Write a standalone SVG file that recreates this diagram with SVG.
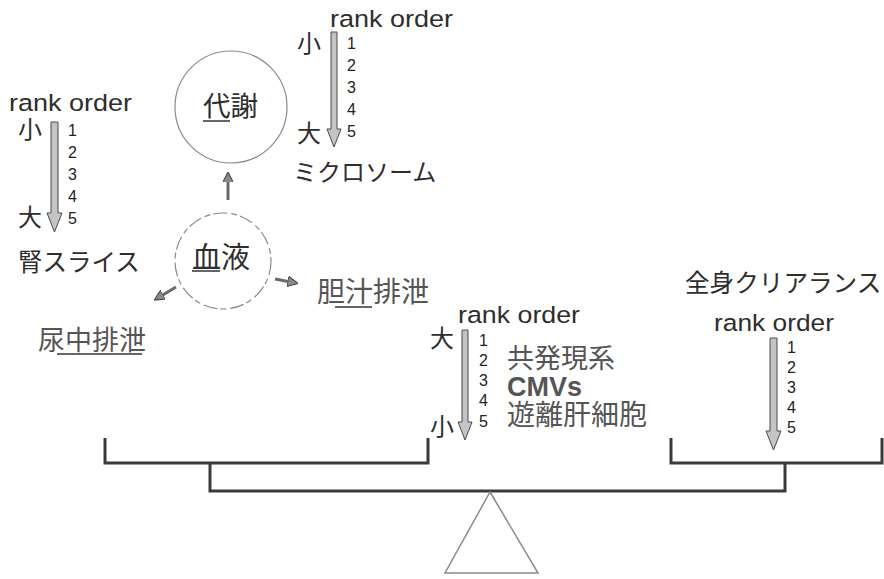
<svg xmlns="http://www.w3.org/2000/svg" width="884" height="579" viewBox="0 0 884 579">
<style>
.ro{font-family:"Liberation Sans",Arial,sans-serif;font-size:24.5px;fill:#2e2e2e}
.num{font-family:"Liberation Sans",Arial,sans-serif;font-size:16px;fill:#222}
.jp{font-family:"Liberation Sans","Noto Sans CJK JP",sans-serif;fill:#2e2e2e}
.lt{fill:#555}
.circ{fill:none;stroke:#8a8a8a;stroke-width:1.2}
.ul{stroke:#333;stroke-width:1.5}
.ra{fill:#c4c4c4;stroke:#4a4a4a;stroke-width:1}
.beam{fill:none;stroke:#3a3a3a;stroke-width:3;stroke-linejoin:miter}
.con{stroke:#6a6a6a;stroke-width:3}
</style>
<defs>
<marker id="ah" viewBox="0 0 10 10" refX="8" refY="5" markerWidth="3.5" markerHeight="3.5" orient="auto" markerUnits="strokeWidth">
<path d="M0,0 L10,5 L0,10 z" fill="#8a8a8a" stroke="#444" stroke-width="1"/>
</marker>
</defs>

<g id="rank-left">
<text class="ro" x="9" y="111" textLength="123" lengthAdjust="spacingAndGlyphs">rank order</text>
<text class="jp" x="18" y="138" font-size="24">小</text>
<text class="jp" x="18" y="226" font-size="24">大</text>
<path class="ra" d="M51,122 H58 V213 H62 L54.5,232 L47,213 H51 Z"/>
<text class="num" x="68" y="136">1</text>
<text class="num" x="68" y="158">2</text>
<text class="num" x="68" y="180">3</text>
<text class="num" x="68" y="202">4</text>
<text class="num" x="68" y="224">5</text>
</g>

<g id="kidney-slice">
<text class="jp" x="18" y="271" font-size="24.5">腎スライス</text>
</g>

<g id="rank-top">
<text class="ro" x="330" y="27" textLength="123" lengthAdjust="spacingAndGlyphs">rank order</text>
<text class="jp" x="297" y="52" font-size="24">小</text>
<text class="jp" x="297" y="142" font-size="24">大</text>
<path class="ra" d="M331,32 H337 V129 H341 L334,147 L327,129 H331 Z"/>
<text class="num" x="347" y="49">1</text>
<text class="num" x="347" y="71">2</text>
<text class="num" x="347" y="93">3</text>
<text class="num" x="347" y="115">4</text>
<text class="num" x="347" y="137">5</text>
</g>

<g id="microsome">
<text class="jp" x="293" y="181" font-size="24">ミクロソーム</text>
</g>

<g id="metabolism">
<circle class="circ" cx="231" cy="107" r="56"/>
<text class="jp" x="203" y="116" font-size="27.5">代謝</text>
<line class="ul" x1="203" y1="121" x2="230" y2="121"/>
</g>

<g id="blood">
<circle class="circ" cx="223" cy="261" r="48" stroke-dasharray="14 4 6 3"/>
<text class="jp" x="192" y="268" font-size="29">血液</text>
<line class="ul" x1="192" y1="271" x2="220" y2="271"/>
</g>

<g id="biliary">
<text class="jp lt" x="317" y="302" font-size="28">胆汁排泄</text>
<line class="ul" x1="335" y1="307" x2="372" y2="307" stroke="#555"/>
</g>

<g id="urinary">
<text class="jp lt" x="38" y="350" font-size="27">尿中排泄</text>
<line class="ul" x1="57" y1="354" x2="142" y2="354" stroke="#555"/>
</g>

<g id="connectors">
<line class="con" x1="228" y1="200" x2="228" y2="174" marker-end="url(#ah)"/>
<line class="con" x1="275" y1="279" x2="296" y2="283" marker-end="url(#ah)"/>
<line class="con" x1="176" y1="287" x2="156" y2="299" marker-end="url(#ah)"/>
</g>

<g id="rank-mid">
<text class="ro" x="458" y="323" textLength="122" lengthAdjust="spacingAndGlyphs">rank order</text>
<text class="jp" x="430" y="347" font-size="24">大</text>
<text class="jp" x="430" y="435" font-size="24">小</text>
<path class="ra" d="M462,330 H468 V422 H472 L465,440 L458,422 H462 Z"/>
<text class="num" x="479" y="346">1</text>
<text class="num" x="479" y="366">2</text>
<text class="num" x="479" y="386">3</text>
<text class="num" x="479" y="406">4</text>
<text class="num" x="479" y="427">5</text>
<text class="jp lt" x="507" y="368" font-size="27">共発現系</text>
<text x="507" y="396" font-family="Liberation Sans, Arial, sans-serif" font-weight="bold" font-size="27" fill="#555">CMVs</text>
<text class="jp lt" x="507" y="425" font-size="28">遊離肝細胞</text>
</g>

<g id="rank-right">
<text class="jp" x="685" y="292" font-size="24.6">全身クリアランス</text>
<text class="ro" x="714" y="331" textLength="120" lengthAdjust="spacingAndGlyphs">rank order</text>
<path class="ra" d="M770,338 H777 V431 H781 L773.5,450 L766,431 H770 Z"/>
<text class="num" x="787" y="353">1</text>
<text class="num" x="787" y="373">2</text>
<text class="num" x="787" y="393">3</text>
<text class="num" x="787" y="413">4</text>
<text class="num" x="787" y="433">5</text>
</g>

<g id="balance">
<path class="beam" d="M105,438 V463 H428 V438"/>
<path class="beam" d="M671,438 V463 H882 V438"/>
<path class="beam" d="M210,463 V491 H785 V463"/>
<path d="M490,492 L538,573 L445,573 Z" fill="none" stroke="#8a8a8a" stroke-width="1.5"/>
</g>
</svg>
